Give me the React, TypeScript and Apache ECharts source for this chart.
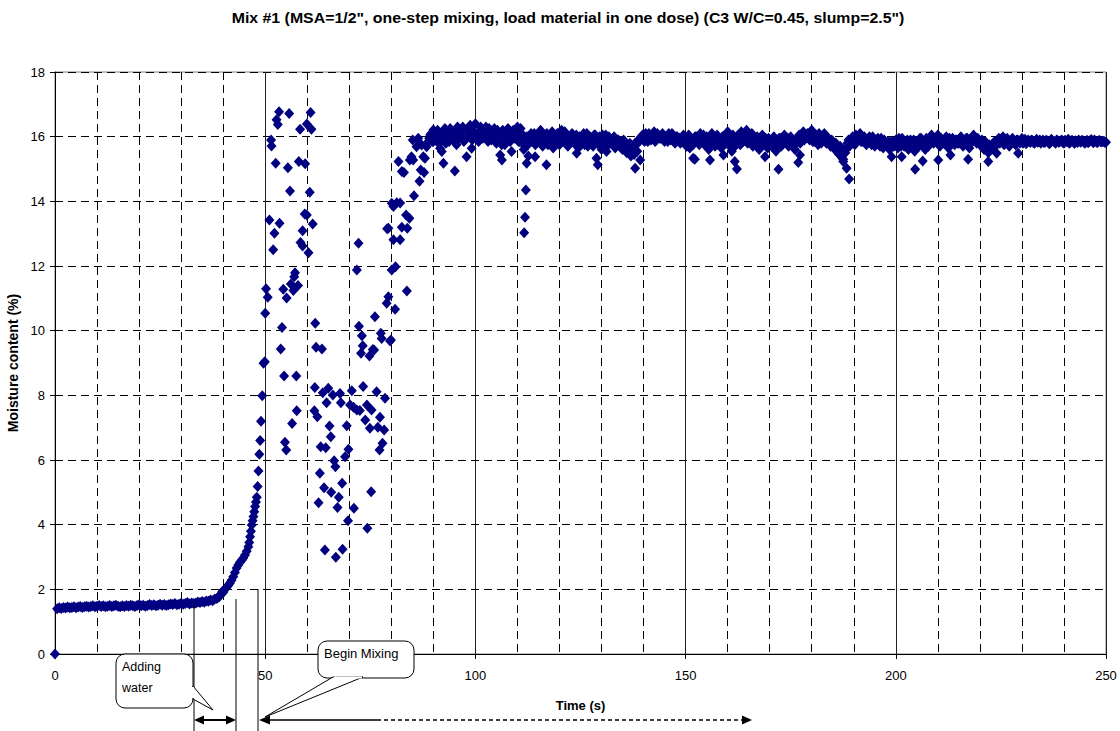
import React, { useEffect, useRef } from "react";
import * as echarts from "echarts";

const titleText = 'Mix #1 (MSA=1/2", one-step mixing, load material in one dose) (C3 W/C=0.45, slump=2.5")';
const xName = "Time (s)";
const yName = "Moisture content (%)";

const sampleStep = 0.5;
const originPoint = [0, 0];

// t = 0.5 .. 33.0 s
const flatStart = 0.5;
const flatValues = [
  1.40, 1.43, 1.41, 1.44, 1.42, 1.45, 1.43, 1.44, 1.46, 1.43,
  1.45, 1.47, 1.44, 1.46, 1.48, 1.45, 1.47, 1.49, 1.46, 1.48,
  1.50, 1.47, 1.49, 1.46, 1.48, 1.50, 1.47, 1.49, 1.51, 1.48,
  1.46, 1.49, 1.47, 1.50, 1.48, 1.51, 1.49, 1.47, 1.50, 1.52,
  1.49, 1.51, 1.48, 1.50, 1.53, 1.50, 1.52, 1.49, 1.51, 1.54,
  1.51, 1.53, 1.50, 1.52, 1.55, 1.53, 1.56, 1.52, 1.54, 1.57,
  1.54, 1.56, 1.59, 1.55, 1.58, 1.56,
];

// water addition: [time, moisture]
const risePoints = [
  [33.5, 1.58], [34, 1.61], [34.5, 1.59], [35, 1.62], [35.5, 1.60], [36, 1.64], [36.5, 1.63],
  [37, 1.67], [37.5, 1.65], [38, 1.70], [38.5, 1.72], [39, 1.76], [39.2, 1.82], [39.5, 1.85],
  [39.8, 1.93], [40, 1.90], [40.3, 1.98], [40.6, 2.03], [40.9, 2.08], [41.2, 2.12], [41.6, 2.19],
  [42, 2.28], [42.4, 2.39], [42.8, 2.52], [43.2, 2.66], [43.6, 2.75], [44, 2.84], [44.4, 2.90],
  [44.8, 2.97], [45.2, 3.06], [45.6, 3.18], [46, 3.32], [46.2, 3.45], [46.4, 3.63], [46.6, 3.80],
  [46.8, 3.99], [47, 4.12], [47.2, 4.25], [47.4, 4.40], [47.6, 4.56], [47.8, 4.70], [48, 4.85],
  [48.2, 5.18], [48.4, 5.66], [48.6, 6.18], [48.8, 6.60], [49.0, 7.20], [49.3, 7.99], [49.6, 8.99],
  [49.9, 9.04],
];

// mixing: scattered readings [time, moisture]
const mixPoints = [
  [50.0, 10.54], [50.2, 11.30], [50.6, 11.03], [51.0, 13.42], [51.4, 15.90], [51.5, 15.71], [51.9, 12.50],
  [52.2, 13.01], [52.5, 15.18], [52.7, 16.52], [53.0, 16.38], [53.3, 16.77], [53.4, 13.32], [53.7, 9.43],
  [54.0, 10.10], [54.3, 11.28], [54.5, 8.60], [54.7, 6.55], [55.0, 6.31], [55.1, 11.01], [55.4, 15.04],
  [55.7, 16.72], [55.9, 14.32], [56.1, 11.44], [56.4, 7.13], [56.7, 11.24], [56.9, 11.67], [57.1, 11.79],
  [57.4, 8.60], [57.5, 7.52], [57.8, 11.40], [58.0, 15.23], [58.3, 16.23], [58.4, 12.73], [58.9, 13.09],
  [58.9, 12.62], [59.4, 13.61], [59.5, 15.16], [59.9, 16.39], [59.9, 13.58], [60.3, 12.41], [60.6, 14.28],
  [60.8, 16.75], [61.0, 16.23], [61.3, 13.30], [61.7, 7.52], [61.8, 8.24], [61.9, 10.23], [62.1, 9.49],
  [62.4, 7.34], [62.7, 4.68], [63.0, 5.59], [63.2, 6.41], [63.5, 9.43], [63.7, 8.08], [64.0, 5.14],
  [64.2, 3.22], [64.4, 6.38], [64.6, 7.77], [65.0, 8.22], [65.3, 7.05], [65.6, 6.72], [65.7, 5.00],
  [66.1, 8.01], [66.4, 5.98], [66.7, 5.79], [66.8, 2.99], [67.2, 4.53], [67.5, 4.85], [67.8, 8.06],
  [68.0, 7.77], [68.3, 5.28], [68.4, 3.24], [69.0, 6.10], [69.4, 7.06], [69.7, 4.12], [69.8, 6.33],
  [70.2, 7.70], [70.6, 8.14], [71.0, 7.63], [71.1, 4.51], [71.8, 7.55], [71.8, 11.88], [72.2, 12.70],
  [72.3, 10.14], [72.5, 7.53], [72.8, 9.30], [73.0, 9.84], [73.2, 9.53], [73.3, 8.27], [73.8, 7.24],
  [74.2, 7.70], [74.3, 3.89], [74.8, 9.22], [74.9, 6.98], [75.2, 5.02], [75.3, 7.55], [75.6, 9.42],
  [75.9, 9.40], [76.1, 10.43], [76.5, 8.11], [76.8, 7.01], [77.2, 6.31], [77.3, 7.32], [77.5, 9.92],
  [77.7, 9.76], [77.9, 6.52], [78.3, 6.93], [78.5, 7.91], [78.9, 10.85], [79.0, 13.15], [79.3, 11.05],
  [79.3, 13.17], [79.7, 9.68], [79.9, 9.71], [80.1, 11.88], [80.1, 13.94], [80.5, 12.81], [80.5, 13.84],
  [80.9, 10.66], [81.0, 11.98], [81.3, 13.96], [81.7, 15.23], [82.1, 12.81], [82.1, 13.95], [82.5, 13.20],
  [82.5, 14.92], [83.0, 14.89], [83.5, 13.58], [83.7, 11.23], [83.8, 13.17], [84.3, 13.48], [84.4, 15.28],
  [84.8, 15.38], [85.1, 15.90], [85.4, 14.17], [85.2, 15.28], [86.0, 15.69], [86.4, 15.95], [86.7, 14.62],
  [86.8, 15.79], [87.0, 14.97], [87.2, 15.74], [87.6, 15.38], [87.8, 14.89], [88.0, 15.33], [88.4, 15.69],
  [88.8, 15.85], [89.6, 16.10], [90.0, 16.21], [90.8, 16.05], [91.2, 16.05], [91.6, 15.64],
];

// t = 89.0 .. 250.0 s
const steadyStartA = 89.0;
const steadyValuesA = [
  15.95, 16.10, 15.85, 16.05, 16.20, 15.90, 16.00, 16.15, 15.80, 16.05,
  16.25, 15.95, 16.10, 15.75, 16.20, 16.00, 16.30, 15.90, 16.15, 16.05,
  16.25, 15.95, 16.40, 16.10, 15.90, 16.20, 16.05, 16.30, 15.85, 16.15,
  16.00, 16.25, 15.80, 16.10, 15.95, 16.20, 15.75, 16.05, 16.15, 15.90,
  16.20, 16.00, 16.30, 15.85, 16.10, 15.60, 15.90, 15.75, 16.05, 15.85,
  16.10, 15.80, 16.00, 16.20, 15.70, 15.95, 16.10, 15.80, 16.00, 15.65,
  15.90, 16.10, 15.75, 16.20, 15.85, 16.00, 15.70, 15.95, 16.10, 15.80,
  16.05, 15.65, 15.90, 16.00, 15.75, 16.10, 15.85, 15.95, 15.70, 16.05,
  15.80, 16.00, 15.60, 15.90, 16.05, 15.75, 15.95, 15.85, 16.00, 15.70,
  15.90, 15.75, 15.60, 15.85, 15.50, 15.70, 15.40, 15.65, 15.80, 15.55,
  15.85, 16.00, 15.90, 16.10, 15.85, 16.05, 15.95, 16.15, 15.90, 16.05,
  15.95, 16.10, 15.85, 16.00, 16.10, 15.90, 16.05, 15.80, 16.00, 15.95,
  15.85, 16.05, 15.75, 15.95, 15.65, 15.90, 15.80, 16.00, 15.85, 16.10,
  15.90, 15.75, 16.00, 15.60, 15.85, 15.95, 15.70, 16.05, 15.85, 15.65,
  16.00, 15.80, 16.15, 15.70, 15.55, 15.85, 15.95, 16.05, 15.75, 16.10,
  15.90, 16.20, 15.95, 16.05, 15.70, 15.85, 16.00, 15.60, 15.90, 15.75,
  15.95, 15.65, 15.85, 15.70, 16.00, 15.55, 15.80, 15.95, 15.75, 16.05,
  15.85, 15.70, 16.00, 15.80, 15.60, 15.90, 16.05, 15.85, 16.15, 15.95,
  16.10, 15.90, 16.20, 15.85, 16.05, 15.75, 16.00, 15.85, 16.10, 15.80,
  15.95, 15.70, 15.85, 15.60, 15.75, 15.45, 15.65, 15.30, 15.50, 15.80,
  15.70, 15.95, 15.85, 16.05, 15.90, 16.10, 15.85, 16.00, 15.75, 15.95,
  15.85, 16.00, 15.70, 15.90, 15.80, 15.95, 15.65, 15.85, 15.75, 15.60,
  15.85, 15.70, 15.90, 15.65, 15.80, 15.95, 15.70, 15.85, 15.60, 15.90,
  15.75, 15.55, 15.85, 15.70, 15.95, 15.80, 15.60, 15.90, 15.75, 16.05,
  15.80, 15.95, 16.05, 15.70, 15.90, 15.80, 16.00, 15.65, 15.85, 15.95,
  15.75, 15.90, 15.80, 16.00, 15.70, 15.85, 15.95, 15.65, 15.90, 16.05,
  15.85, 15.95, 15.75, 15.90, 15.60, 15.80, 15.50, 15.70, 15.65, 15.85,
  15.75, 15.95, 15.85, 16.00, 15.80, 15.95, 15.70, 15.90, 15.85, 15.75,
  15.90, 15.80, 15.95, 15.85, 15.78, 15.90, 15.82, 15.88, 15.80, 15.92,
  15.85, 15.80, 15.90, 15.83, 15.87, 15.78, 15.92, 15.85, 15.80, 15.88,
  15.84, 15.90, 15.80, 15.86, 15.92, 15.82, 15.88, 15.79, 15.85, 15.90,
  15.83, 15.87, 15.80, 15.89, 15.84, 15.91, 15.81, 15.86, 15.82, 15.88,
  15.84, 15.86, 15.83,
];

// t = 89.25 .. 249.75 s (interleaved readings)
const steadyStartB = 89.25;
const steadyValuesB = [
  16.05, 15.85, 16.15, 15.95, 15.80, 16.10, 15.90, 16.25, 16.00, 15.85,
  16.15, 16.05, 15.85, 16.30, 15.95, 16.15, 15.85, 16.20, 16.00, 16.35,
  15.90, 16.15, 16.05, 15.85, 16.30, 15.95, 16.15, 16.00, 16.25, 15.90,
  16.10, 15.85, 16.20, 16.00, 15.75, 16.15, 15.95, 16.25, 15.85, 16.10,
  15.95, 16.15, 15.85, 16.25, 15.95, 15.70, 16.00, 15.85, 16.10, 15.95,
  15.75, 16.00, 15.90, 16.10, 15.85, 16.05, 15.75, 15.95, 16.15, 15.85,
  16.05, 15.80, 16.00, 15.90, 16.15, 15.75, 15.95, 16.05, 15.85, 15.95,
  15.75, 16.00, 15.85, 16.10, 15.90, 15.70, 16.00, 15.80, 16.05, 15.90,
  15.95, 15.75, 16.05, 15.85, 15.70, 16.00, 15.80, 15.95, 15.65, 15.90,
  15.80, 15.65, 15.90, 15.70, 15.55, 15.80, 15.60, 15.45, 15.75, 15.90,
  15.95, 16.05, 15.85, 15.95, 16.10, 15.90, 16.00, 15.85, 16.10, 15.95,
  16.05, 15.90, 16.00, 15.85, 15.95, 16.10, 15.85, 16.00, 15.90, 15.80,
  16.00, 15.90, 15.70, 16.05, 15.85, 15.75, 16.00, 15.90, 15.75, 15.95,
  16.05, 15.85, 15.70, 15.95, 16.10, 15.80, 15.95, 15.75, 15.90, 16.00,
  15.85, 15.95, 15.75, 15.90, 16.05, 15.70, 15.80, 15.90, 16.15, 15.85,
  16.05, 15.80, 15.95, 16.10, 15.85, 15.75, 15.95, 15.80, 16.05, 15.90,
  15.80, 15.95, 15.75, 15.90, 15.65, 15.85, 15.95, 15.70, 15.90, 15.85,
  15.95, 15.80, 15.90, 15.70, 15.85, 15.95, 15.80, 16.00, 15.90, 16.05,
  15.95, 16.15, 15.85, 16.00, 15.90, 16.10, 15.80, 15.95, 15.85, 15.95,
  15.80, 15.90, 15.70, 15.80, 15.55, 15.70, 15.40, 15.60, 15.65, 15.90,
  15.85, 16.00, 15.75, 15.95, 16.00, 15.85, 15.95, 15.90, 15.85, 16.00,
  15.75, 15.90, 15.85, 15.95, 15.70, 15.85, 15.90, 15.75, 15.85, 15.80,
  15.75, 15.85, 15.80, 15.95, 15.70, 15.85, 15.80, 15.90, 15.75, 15.80,
  15.90, 15.70, 15.80, 15.95, 15.75, 15.85, 15.95, 15.70, 15.85, 15.90,
  15.95, 15.85, 15.75, 15.95, 15.85, 15.90, 15.75, 15.95, 15.80, 15.85,
  15.90, 15.80, 15.95, 15.85, 15.80, 15.95, 15.75, 15.90, 15.85, 15.95,
  15.80, 15.90, 15.85, 15.70, 15.85, 15.65, 15.75, 15.60, 15.80, 15.75,
  15.90, 15.80, 15.95, 15.75, 15.90, 15.85, 15.80, 15.95, 15.80, 15.90,
  15.85, 15.88, 15.80, 15.92, 15.84, 15.86, 15.90, 15.81, 15.87, 15.83,
  15.90, 15.84, 15.82, 15.89, 15.85, 15.81, 15.88, 15.84, 15.90, 15.83,
  15.87, 15.82, 15.89, 15.85, 15.80, 15.88, 15.84, 15.87, 15.82, 15.86,
  15.89, 15.83, 15.86, 15.81, 15.88, 15.85, 15.90, 15.83, 15.87, 15.84,
  15.85, 15.82,
];

// low readings within the steady phase [time, moisture]
const dipPoints = [
  [92.0, 15.54], [92.4, 15.18], [95.1, 14.94], [97.9, 15.38], [99.1, 15.64], [105.9, 15.43], [106.3, 15.28],
  [108.6, 15.54], [111.6, 13.03], [111.8, 13.51], [112.0, 14.35], [112.2, 15.18], [112.6, 15.40],
  [114.2, 15.38], [116.9, 15.13], [124.1, 15.49], [128.8, 15.33], [129.1, 15.13], [131.2, 15.54],
  [138.0, 15.02], [139.2, 15.28], [151.8, 15.33], [152.2, 15.30], [155.8, 15.28], [159.0, 15.43],
  [161.7, 15.23], [162.2, 15.00], [168.9, 15.38], [172.1, 14.99], [176.8, 15.20], [177.2, 15.43],
  [187.5, 15.23], [188.3, 15.02], [188.9, 14.69], [199.0, 15.38], [201.4, 15.38], [204.6, 14.99],
  [206.4, 15.25], [210.1, 15.28], [213.0, 15.43], [217.2, 15.30], [222.0, 15.23], [224.0, 15.49],
  [229.1, 15.49],
];

const xMin = 0, xMax = 250, xStep = 10, xMajor = 50;
const yMin = 0, yMax = 18, yStep = 2;

const FONT = "'Liberation Sans', Arial, sans-serif";

function measureText(text: string, font: string): number {
  const ctx = document.createElement("canvas").getContext("2d");
  if (!ctx) return 0;
  ctx.font = font;
  return ctx.measureText(text).width;
}

export default function App() {
  const ref = useRef<HTMLDivElement>(null);

  useEffect(() => {
    if (!ref.current) return;
    const chart = echarts.init(ref.current, null, { renderer: "svg" });

    const flatPts = flatValues.map((v, i) => [flatStart + i * sampleStep, v]);
    const steadyPtsA = steadyValuesA.map((v, i) => [steadyStartA + i * sampleStep, v]);
    const steadyPtsB = steadyValuesB.map((v, i) => [steadyStartB + i * sampleStep, v]);
    const allPts = [originPoint, ...flatPts, ...risePoints, ...mixPoints, ...steadyPtsA, ...steadyPtsB, ...dipPoints];

    const dashed = [8, 5];
    const black = "#000";

    const titleFont = "bold 15px 'Liberation Sans', Arial, sans-serif";
    const tw = measureText(titleText, titleFont);
    const titleScale = tw > 0 ? 673 / tw : 0.85;

    const Z = 100;
    const graphic: any[] = [
      {
        type: "text", x: 568, y: 10, scaleX: titleScale, z: Z,
        style: { text: titleText, fill: black, font: titleFont, align: "center", verticalAlign: "top" },
      },
      // vertical marker lines
      { type: "line", z: Z, shape: { x1: 194, y1: 605, x2: 194, y2: 731 }, style: { stroke: black, lineWidth: 1 } },
      { type: "line", z: Z, shape: { x1: 236, y1: 599, x2: 236, y2: 731 }, style: { stroke: black, lineWidth: 1 } },
      { type: "line", z: Z, shape: { x1: 258, y1: 589, x2: 258, y2: 731 }, style: { stroke: black, lineWidth: 1 } },
      // double arrow
      { type: "line", z: Z, shape: { x1: 200, y1: 720, x2: 230, y2: 720 }, style: { stroke: black, lineWidth: 2 } },
      { type: "polygon", z: Z, shape: { points: [[194, 720], [204, 715.5], [204, 724.5]] }, style: { fill: black } },
      { type: "polygon", z: Z, shape: { points: [[236, 720], [226, 715.5], [226, 724.5]] }, style: { fill: black } },
      // mixing arrow
      { type: "line", z: Z, shape: { x1: 266, y1: 720, x2: 377, y2: 720 }, style: { stroke: black, lineWidth: 1.5 } },
      { type: "line", z: Z, shape: { x1: 377, y1: 720, x2: 744, y2: 720 }, style: { stroke: black, lineWidth: 1.5, lineDash: [4, 3] } },
      { type: "polygon", z: Z, shape: { points: [[259, 720], [270, 715.5], [270, 724.5]] }, style: { fill: black } },
      { type: "polygon", z: Z, shape: { points: [[752, 720], [742, 715.5], [742, 724.5]] }, style: { fill: black } },
      // Adding water callout
      { type: "rect", z: Z, shape: { x: 116, y: 654, width: 77, height: 54, r: 9 }, style: { fill: "#fff", stroke: black, lineWidth: 1 } },
      { type: "polygon", z: Z, shape: { points: [[193, 686], [213, 710], [193, 699]] }, style: { fill: "#fff", stroke: black, lineWidth: 1 } },
      { type: "line", z: Z, shape: { x1: 193, y1: 687, x2: 193, y2: 698 }, style: { stroke: "#fff", lineWidth: 2 } },
      { type: "text", z: Z, style: { text: "Adding", x: 122, y: 660, fill: black, font: `12.5px ${FONT}` } },
      { type: "text", z: Z, style: { text: "water", x: 122, y: 681, fill: black, font: `12.5px ${FONT}` } },
      // Begin Mixing callout
      { type: "rect", z: Z, shape: { x: 318, y: 641, width: 96, height: 37, r: 9 }, style: { fill: "#fff", stroke: black, lineWidth: 1 } },
      { type: "polygon", z: Z, shape: { points: [[333, 677], [265, 717], [363, 677]] }, style: { fill: "#fff", stroke: black, lineWidth: 1 } },
      { type: "line", z: Z, shape: { x1: 334, y1: 677.5, x2: 362, y2: 677.5 }, style: { stroke: "#fff", lineWidth: 2 } },
      { type: "text", z: Z, style: { text: "Begin Mixing", x: 324, y: 647, fill: black, font: `13px ${FONT}` } },
    ];

    chart.setOption({
      animation: false,
      backgroundColor: "#fff",
      textStyle: { fontFamily: FONT },
      grid: {
        left: 55, right: 14, top: 72, bottom: 77, containLabel: false, outerBoundsMode: "none",
        show: true, borderColor: "#808080", borderWidth: 1,
      },
      xAxis: [
        {
          type: "value", min: xMin, max: xMax, interval: xStep,
          axisLine: { show: true, lineStyle: { color: black, width: 1 } },
          axisTick: { show: false },
          axisLabel: {
            interval: 0, color: black, fontSize: 13, margin: 15, fontFamily: FONT,
            formatter: (v: number) => (v % xMajor === 0 ? String(v) : ""),
          },
          splitLine: { show: true, lineStyle: { color: black, width: 1, type: dashed } },
          name: xName, nameLocation: "middle", nameGap: 45,
          nameTextStyle: { color: black, fontWeight: "bold", fontSize: 13, fontFamily: FONT },
        },
        {
          type: "value", min: xMin, max: xMax, interval: xMajor, position: "bottom",
          axisLine: { show: false },
          axisTick: { show: true, length: 5, lineStyle: { color: black } },
          axisLabel: { show: false },
          splitLine: { show: true, lineStyle: { color: "#202020", width: 1, type: "solid" } },
        },
      ],
      yAxis: {
        type: "value", min: yMin, max: yMax, interval: yStep,
        axisLine: { show: true, lineStyle: { color: black, width: 1 } },
        axisTick: { show: true, length: 5, inside: false, lineStyle: { color: black } },
        axisLabel: { color: black, fontSize: 13, margin: 10, fontFamily: FONT },
        splitLine: { show: true, lineStyle: { color: black, width: 1, type: dashed } },
        name: yName, nameLocation: "middle", nameGap: 29, nameRotate: 90,
        nameTextStyle: { color: black, fontWeight: "bold", fontSize: 14, fontFamily: FONT },
      },
      series: [
        {
          type: "scatter", xAxisIndex: 0, yAxisIndex: 0,
          data: allPts, symbol: "diamond", symbolSize: [10, 11], clip: false,
          itemStyle: { color: "#000080", opacity: 1 },
        },
      ],
      graphic,
    });

    return () => chart.dispose();
  }, []);

  return (
    <div
      ref={ref}
      style={{ position: "fixed", left: 0, top: 0, width: 1120, height: 731, background: "#fff" }}
    />
  );
}
